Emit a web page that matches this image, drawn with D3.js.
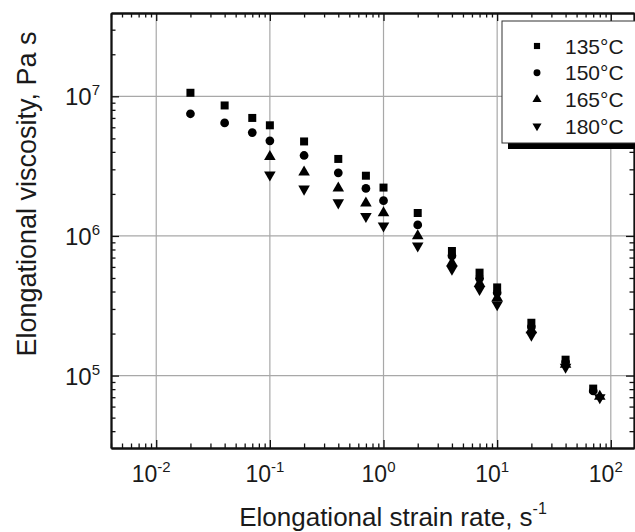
<!DOCTYPE html>
<html>
<head>
<meta charset="utf-8">
<script src="https://cdn.jsdelivr.net/npm/d3@7"></script>
<style>
  body { margin: 0; background: #fff; }
  text { font-family: "Liberation Sans", Arial, sans-serif; fill: #1a1a1a; }
</style>
</head>
<body>
<svg id="chart" width="635" height="532"></svg>
<script>
// strain rates (1/s) and elongational viscosities (Pa s)
var rate135 = [0.02, 0.04, 0.07, 0.1, 0.2, 0.4, 0.7, 1, 2, 4, 7, 10, 20, 40, 70];
var eta135 = [1.06e7, 8.6e6, 7.0e6, 6.2e6, 4.75e6, 3.56e6, 2.7e6, 2.22e6, 1.46e6, 7.8e5, 5.46e5, 4.28e5, 2.39e5, 1.3e5, 8.07e4];
var rate150 = [0.02, 0.04, 0.07, 0.1, 0.2, 0.4, 0.7, 1, 2, 4, 7, 10, 20, 40, 70];
var eta150 = [7.5e6, 6.45e6, 5.5e6, 4.8e6, 3.77e6, 2.83e6, 2.19e6, 1.79e6, 1.2e6, 7.2e5, 4.97e5, 3.92e5, 2.23e5, 1.25e5, 7.76e4];
var rate165 = [0.1, 0.2, 0.4, 0.7, 1, 2, 4, 7, 10, 20, 40, 80];
var eta165 = [3.7e6, 2.86e6, 2.2e6, 1.72e6, 1.46e6, 1.0e6, 6.4e5, 4.57e5, 3.6e5, 2.12e5, 1.2e5, 7.1e4];
var rate180 = [0.1, 0.2, 0.4, 0.7, 1, 2, 4, 7, 10, 20, 40, 80];
var eta180 = [2.74e6, 2.17e6, 1.73e6, 1.38e6, 1.18e6, 8.5e5, 5.8e5, 4.14e5, 3.23e5, 1.95e5, 1.15e5, 6.95e4];

var seriesNames = ["135°C", "150°C", "165°C", "180°C"];
var xExponents = [-2, -1, 0, 1, 2];
var yExponents = [5, 6, 7];

// plot frame (note: "top" is taken by window.top, so use other names)
var pL = 111, pR = 634, pT = 13, pB = 448;
var svg = d3.select("#chart");

var x = d3.scaleLog().domain([0.004, 160]).range([pL, pR]);
var y = d3.scaleLog().domain([3.03e4, 3.95e7]).range([pB, pT]);

// grid at decades
svg.append("g").selectAll("line").data(xExponents).join("line")
  .attr("x1", function(e) { return x(Math.pow(10, e)); })
  .attr("x2", function(e) { return x(Math.pow(10, e)); })
  .attr("y1", pT).attr("y2", pB)
  .attr("stroke", "#a8a8a8").attr("stroke-width", 1.2);
svg.append("g").selectAll("line").data(yExponents).join("line")
  .attr("y1", function(e) { return y(Math.pow(10, e)); })
  .attr("y2", function(e) { return y(Math.pow(10, e)); })
  .attr("x1", pL).attr("x2", pR)
  .attr("stroke", "#a8a8a8").attr("stroke-width", 1.2);

var xMajor = xExponents.map(function(e) { return Math.pow(10, e); });
var xMinor = x.ticks().filter(function(v) { return xMajor.indexOf(v) < 0; });
var yMajor = yExponents.map(function(e) { return Math.pow(10, e); });
var yMinor = y.ticks().filter(function(v) { return yMajor.indexOf(v) < 0; });

function styleAxis(g) {
  g.select(".domain").attr("stroke", "#111").attr("stroke-width", 1.8);
  g.selectAll(".tick line").attr("stroke", "#111").attr("stroke-width", 1.3);
}

// inward ticks on all four sides
var axes = [
  [d3.axisBottom(x), "translate(0," + pB + ")", xMajor, xMinor],
  [d3.axisTop(x), "translate(0," + pT + ")", xMajor, xMinor],
  [d3.axisLeft(y), "translate(" + pL + ",0)", yMajor, yMinor],
  [d3.axisRight(y), "translate(" + pR + ",0)", yMajor, yMinor]
];
axes.forEach(function(a) {
  svg.append("g").attr("transform", a[1])
    .call(a[0].tickValues(a[3]).tickSize(-4.5).tickFormat("").tickSizeOuter(0))
    .call(styleAxis);
  svg.append("g").attr("transform", a[1])
    .call(a[0].tickValues(a[2]).tickSize(-8).tickFormat("").tickSizeOuter(0))
    .call(styleAxis);
});

// tick labels as 10 with superscript exponent
var xl = svg.append("g").selectAll("text").data(xExponents).join("text")
  .attr("x", function(e) { return x(Math.pow(10, e)) - 5; })
  .attr("y", 482)
  .attr("text-anchor", "middle")
  .style("font-size", "23px");
xl.append("tspan").text("10");
xl.append("tspan").attr("dy", -10).style("font-size", "15px").text(function(e) { return e; });

var yl = svg.append("g").selectAll("text").data(yExponents).join("text")
  .attr("x", 100)
  .attr("y", function(e) { return y(Math.pow(10, e)) + 9; })
  .attr("text-anchor", "end")
  .style("font-size", "24px");
yl.append("tspan").text("10");
yl.append("tspan").attr("dy", -10).style("font-size", "15px").text(function(e) { return e; });

// axis titles
var xt = svg.append("text")
  .attr("x", 393).attr("y", 526)
  .attr("text-anchor", "middle")
  .style("font-size", "26px");
xt.append("tspan").text("Elongational strain rate, s");
xt.append("tspan").attr("dy", -12).style("font-size", "16px").text("-1");

svg.append("text")
  .attr("transform", "translate(36,194) rotate(-90)")
  .attr("text-anchor", "middle")
  .style("font-size", "27px")
  .text("Elongational viscosity, Pa s");

// markers
var shapes = [
  d3.symbol(d3.symbolSquare, 64),
  d3.symbol(d3.symbolCircle, 60),
  d3.symbol(d3.symbolTriangle, 58),
  d3.symbol(d3.symbolTriangle, 58)
];
var rots = [0, 0, 0, 180];
var series = [[rate135, eta135], [rate150, eta150], [rate165, eta165], [rate180, eta180]];

series.forEach(function(s, i) {
  svg.append("g").selectAll("path").data(s[0]).join("path")
    .attr("d", shapes[i])
    .attr("transform", function(d, j) {
      return "translate(" + x(d) + "," + y(s[1][j]) + ") rotate(" + rots[i] + ")";
    })
    .attr("fill", "#000");
});

// legend with drop shadow
var lg = svg.append("g");
lg.append("rect").attr("x", 508).attr("y", 27).attr("width", 140).attr("height", 122).attr("fill", "#000");
lg.append("rect").attr("x", 502).attr("y", 21).attr("width", 140).attr("height", 122)
  .attr("fill", "#fff").attr("stroke", "#333").attr("stroke-width", 1);
var legendShapes = [
  d3.symbol(d3.symbolSquare, 38),
  d3.symbol(d3.symbolCircle, 38),
  d3.symbol(d3.symbolTriangle, 36),
  d3.symbol(d3.symbolTriangle, 36)
];
seriesNames.forEach(function(name, i) {
  var yy = 46 + i * 26.7;
  lg.append("path").attr("d", legendShapes[i])
    .attr("transform", "translate(537," + yy + ") rotate(" + rots[i] + ")")
    .attr("fill", "#000");
  lg.append("text").attr("x", 565).attr("y", yy + 7.5)
    .style("font-size", "21px").text(name);
});
</script>
</body>
</html>
